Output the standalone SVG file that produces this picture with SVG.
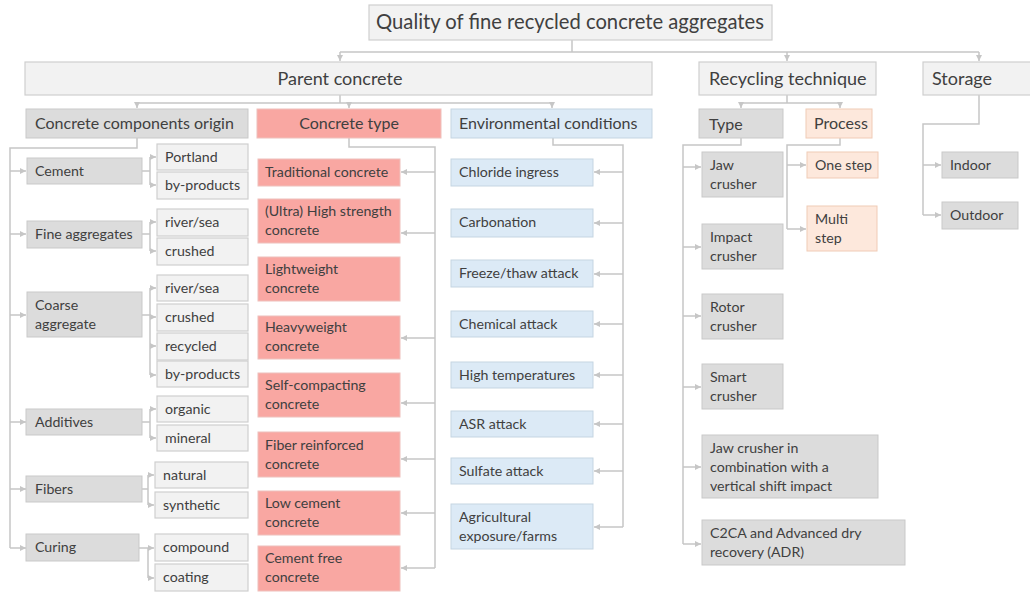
<svg xmlns="http://www.w3.org/2000/svg" width="1030" height="592" viewBox="0 0 1030 592">
<style>
.c{fill:none;stroke:#c6c6c6;stroke-width:1.5}
.a{fill:none;stroke:#c6c6c6;stroke-width:1.5;marker-end:url(#ah)}
.g{fill:#dcdcdc;stroke:#c9c9c9;stroke-width:1}
.l{fill:#f2f2f2;stroke:#cfcfcf;stroke-width:1.2}
.r{fill:#f9a7a2;stroke:#eec0bc;stroke-width:1}
.b{fill:#dceaf6;stroke:#c5d5e2;stroke-width:1}
.p{fill:#fde8dc;stroke:#f0cbb6;stroke-width:1}
text{font-family:Lato,"Open Sans",sans-serif;fill:#404040;font-size:14.2px}
.t1{font-size:20.2px}
.t2{font-size:18px}
.t3{font-size:16px}
.m{text-anchor:middle}
</style>
<defs>
<marker id="ah" markerUnits="userSpaceOnUse" markerWidth="6" markerHeight="6" refX="6" refY="3" orient="auto">
<path d="M0,0 L6,3 L0,6 z" fill="#c6c6c6"/>
</marker>
</defs>
<g id="connectors">
<path class="c" d="M572,40 V52 M340,52 H979"/>
<path class="a" d="M340,52 V61"/><path class="a" d="M787,52 V61"/><path class="a" d="M979,52 V61"/>
<path class="c" d="M340,95 V103 M137,103 H552"/>
<path class="a" d="M137,103 V108"/><path class="a" d="M349,103 V108"/><path class="a" d="M552,103 V108"/>
<path class="c" d="M787,95 V103 M741,103 H840"/>
<path class="a" d="M741,103 V108"/><path class="a" d="M840,103 V108"/>
<path class="c" d="M979,95 V124 H923 V215"/>
<path class="a" d="M923,165 H941"/><path class="a" d="M923,215 H941"/>
<path class="c" d="M137,138 V148 H10 V548"/>
<path class="a" d="M10,171 H26"/><path class="a" d="M10,234 H26"/><path class="a" d="M10,315 H26"/><path class="a" d="M10,422 H26"/><path class="a" d="M10,489 H26"/><path class="a" d="M10,548 H26"/>
<path class="c" d="M142,171 H150 M150,157 V185"/>
<path class="a" d="M150,157 H156"/><path class="a" d="M150,185 H156"/>
<path class="c" d="M142,234 H150 M150,222 V251"/>
<path class="a" d="M150,222 H156"/><path class="a" d="M150,251 H156"/>
<path class="c" d="M142,315 H150 M150,288 V375"/>
<path class="a" d="M150,288 H156"/><path class="a" d="M150,317 H156"/><path class="a" d="M150,346 H156"/><path class="a" d="M150,375 H156"/>
<path class="c" d="M142,422 H150 M150,409 V438"/>
<path class="a" d="M150,409 H156"/><path class="a" d="M150,438 H156"/>
<path class="c" d="M142,489 H148 M148,475 V505"/>
<path class="a" d="M148,475 H154"/><path class="a" d="M148,505 H154"/>
<path class="c" d="M139,548 H148 V578"/>
<path class="a" d="M148,548 H154"/><path class="a" d="M148,578 H154"/>
<path class="c" d="M349,138 V147 H435 V568"/>
<path class="a" d="M435,172 H401"/><path class="a" d="M435,233 H401"/><path class="a" d="M435,338 H401"/><path class="a" d="M435,403 H401"/><path class="a" d="M435,459 H401"/><path class="a" d="M435,513 H401"/><path class="a" d="M435,568 H401"/>
<path class="c" d="M553,138 V145 H623 V527"/>
<path class="a" d="M623,172 H594"/><path class="a" d="M623,223 H594"/><path class="a" d="M623,274 H594"/><path class="a" d="M623,324 H594"/><path class="a" d="M623,375 H594"/><path class="a" d="M623,424 H594"/><path class="a" d="M623,471 H594"/><path class="a" d="M623,527 H594"/>
<path class="c" d="M741,138 V145 H683 V544"/>
<path class="a" d="M683,167 H701"/><path class="a" d="M683,247 H701"/><path class="a" d="M683,316 H701"/><path class="a" d="M683,387 H701"/><path class="a" d="M683,467 H701"/><path class="a" d="M683,544 H701"/>
<path class="c" d="M840,138 V145 H787 V229"/>
<path class="a" d="M787,165 H806"/><path class="a" d="M787,229 H806"/>
</g>
<g id="root"><rect class="l" x="369" y="5" width="403" height="35"/><text class="t1 m" x="570" y="29">Quality of fine recycled concrete aggregates</text></g>
<g id="parent"><rect class="l" x="25" y="62" width="627" height="33"/><text class="t2 m" x="340" y="85">Parent concrete</text></g>
<g id="recycling"><rect class="l" x="699" y="62" width="177" height="33"/><text class="t2" x="709" y="85">Recycling technique</text></g>
<g id="storage"><rect class="l" x="923" y="62" width="110" height="33"/><text class="t2" x="932" y="85">Storage</text></g>
<g id="components"><rect class="g" x="26" y="109" width="222" height="29"/><text class="t3" x="35" y="129">Concrete components origin</text></g>
<g id="ctype"><rect class="r" x="257" y="109" width="184" height="29"/><text class="t3 m" x="349" y="129">Concrete type</text></g>
<g id="env"><rect class="b" x="451" y="109" width="201" height="29"/><text class="t3" x="459" y="129">Environmental conditions</text></g>
<g id="type"><rect class="g" x="699" y="109" width="84" height="29"/><text class="t3" x="709" y="130">Type</text></g>
<g id="process"><rect class="p" x="806" y="109" width="66" height="29"/><text class="t3" x="814" y="129">Process</text></g>
<g id="cement"><rect class="g" x="27" y="158" width="115" height="26"/><text x="35" y="176">Cement</text></g>
<g id="portland"><rect class="l" x="157" y="144" width="91" height="26"/><text x="165" y="162">Portland</text></g>
<g id="byprod1"><rect class="l" x="157" y="172" width="91" height="27"/><text x="165" y="190">by-products</text></g>
<g id="fine"><rect class="g" x="27" y="221" width="115" height="27"/><text x="35" y="239">Fine aggregates</text></g>
<g id="river1"><rect class="l" x="157" y="209" width="91" height="27"/><text x="165" y="227">river/sea</text></g>
<g id="crushed1"><rect class="l" x="157" y="238" width="91" height="27"/><text x="165" y="256">crushed</text></g>
<g id="coarse"><rect class="g" x="27" y="292" width="115" height="45"/><text x="35" y="310">Coarse</text><text x="35" y="329">aggregate</text></g>
<g id="river2"><rect class="l" x="157" y="275" width="91" height="26"/><text x="165" y="293">river/sea</text></g>
<g id="crushed2"><rect class="l" x="157" y="304" width="91" height="27"/><text x="165" y="322">crushed</text></g>
<g id="recycled"><rect class="l" x="157" y="333" width="91" height="27"/><text x="165" y="351">recycled</text></g>
<g id="byprod2"><rect class="l" x="157" y="361" width="91" height="26"/><text x="165" y="379">by-products</text></g>
<g id="additives"><rect class="g" x="26" y="409" width="116" height="26"/><text x="35" y="427">Additives</text></g>
<g id="organic"><rect class="l" x="157" y="396" width="91" height="26"/><text x="165" y="414">organic</text></g>
<g id="mineral"><rect class="l" x="157" y="425" width="91" height="26"/><text x="165" y="443">mineral</text></g>
<g id="fibers"><rect class="g" x="26" y="476" width="116" height="26"/><text x="35" y="494">Fibers</text></g>
<g id="natural"><rect class="l" x="155" y="462" width="93" height="26"/><text x="163" y="480">natural</text></g>
<g id="synthetic"><rect class="l" x="155" y="492" width="93" height="26"/><text x="163" y="510">synthetic</text></g>
<g id="curing"><rect class="g" x="26" y="534" width="113" height="27"/><text x="35" y="552">Curing</text></g>
<g id="compound"><rect class="l" x="155" y="534" width="93" height="27"/><text x="163" y="552">compound</text></g>
<g id="coating"><rect class="l" x="155" y="564" width="93" height="27"/><text x="163" y="582">coating</text></g>
<g id="traditional"><rect class="r" x="258" y="159" width="142" height="27"/><text x="265" y="177">Traditional concrete</text></g>
<g id="uhs"><rect class="r" x="258" y="199" width="142" height="44"/><text x="265" y="216">(Ultra) High strength</text><text x="265" y="235">concrete</text></g>
<g id="lightweight"><rect class="r" x="258" y="257" width="142" height="44"/><text x="265" y="274">Lightweight</text><text x="265" y="293">concrete</text></g>
<g id="heavyweight"><rect class="r" x="258" y="316" width="142" height="43"/><text x="265" y="332">Heavyweight</text><text x="265" y="351">concrete</text></g>
<g id="selfcomp"><rect class="r" x="258" y="373" width="142" height="44"/><text x="265" y="390">Self-compacting</text><text x="265" y="409">concrete</text></g>
<g id="fiberreinf"><rect class="r" x="258" y="432" width="142" height="45"/><text x="265" y="450">Fiber reinforced</text><text x="265" y="469">concrete</text></g>
<g id="lowcement"><rect class="r" x="258" y="491" width="142" height="44"/><text x="265" y="508">Low cement</text><text x="265" y="527">concrete</text></g>
<g id="cementfree"><rect class="r" x="258" y="546" width="142" height="45"/><text x="265" y="563">Cement free</text><text x="265" y="582">concrete</text></g>
<g id="chloride"><rect class="b" x="451" y="159" width="142" height="27"/><text x="459" y="177">Chloride ingress</text></g>
<g id="carbonation"><rect class="b" x="451" y="209" width="142" height="28"/><text x="459" y="227">Carbonation</text></g>
<g id="freeze"><rect class="b" x="451" y="260" width="142" height="27"/><text x="459" y="278">Freeze/thaw attack</text></g>
<g id="chemical"><rect class="b" x="451" y="311" width="142" height="26"/><text x="459" y="329">Chemical attack</text></g>
<g id="hightemp"><rect class="b" x="451" y="362" width="142" height="26"/><text x="459" y="380">High temperatures</text></g>
<g id="asr"><rect class="b" x="451" y="411" width="142" height="26"/><text x="459" y="429">ASR attack</text></g>
<g id="sulfate"><rect class="b" x="451" y="458" width="142" height="26"/><text x="459" y="476">Sulfate attack</text></g>
<g id="agri"><rect class="b" x="451" y="504" width="142" height="45"/><text x="459" y="522">Agricultural</text><text x="459" y="541">exposure/farms</text></g>
<g id="jaw"><rect class="g" x="702" y="152" width="81" height="45"/><text x="710" y="170">Jaw</text><text x="710" y="189">crusher</text></g>
<g id="impact"><rect class="g" x="702" y="224" width="81" height="45"/><text x="710" y="242">Impact</text><text x="710" y="261">crusher</text></g>
<g id="rotor"><rect class="g" x="702" y="294" width="81" height="45"/><text x="710" y="312">Rotor</text><text x="710" y="331">crusher</text></g>
<g id="smart"><rect class="g" x="702" y="364" width="81" height="45"/><text x="710" y="382">Smart</text><text x="710" y="401">crusher</text></g>
<g id="jawcombo"><rect class="g" x="702" y="435" width="176" height="63"/><text x="710" y="453">Jaw crusher in</text><text x="710" y="472">combination with a</text><text x="710" y="491">vertical shift impact</text></g>
<g id="c2ca"><rect class="g" x="702" y="520" width="203" height="45"/><text x="710" y="538">C2CA and Advanced dry</text><text x="710" y="557">recovery (ADR)</text></g>
<g id="onestep"><rect class="p" x="807" y="152" width="71" height="26"/><text x="815" y="170">One step</text></g>
<g id="multistep"><rect class="p" x="807" y="206" width="70" height="45"/><text x="815" y="224">Multi</text><text x="815" y="243">step</text></g>
<g id="indoor"><rect class="g" x="942" y="152" width="76" height="26"/><text x="950" y="170">Indoor</text></g>
<g id="outdoor"><rect class="g" x="942" y="202" width="76" height="27"/><text x="950" y="220">Outdoor</text></g>
</svg>
